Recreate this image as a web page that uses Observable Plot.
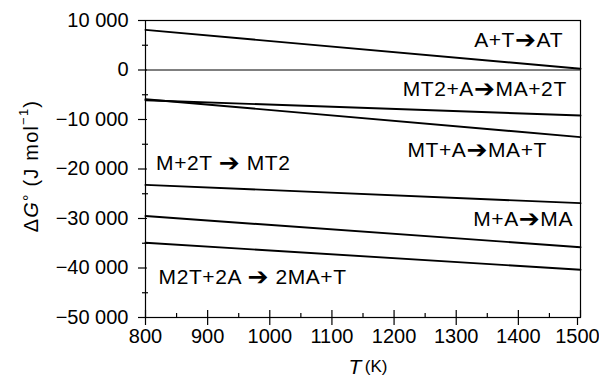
<!DOCTYPE html>
<html>
<head>
<meta charset="utf-8">
<script src="https://cdn.jsdelivr.net/npm/d3@7"></script>
<script src="https://cdn.jsdelivr.net/npm/@observablehq/plot@0.6"></script>
<style>
  html, body { margin: 0; padding: 0; background: #fff; }
  #chart { width: 599px; height: 379px; }
</style>
</head>
<body>
<div id="chart"></div>
<script>
// Reactions and their ΔG° at T = 800 K and T = 1500 K
const reactions = ["A+T\u2192AT", "MT2+A\u2192MA+2T", "MT+A\u2192MA+T", "M+2T\u2192MT2", "M+A\u2192MA", "M2T+2A\u21922MA+T"];
const tStart = 800;
const tEnd = 1500;
const gStart = [8100, -6100, -5900, -23200, -29500, -34900];
const gEnd = [250, -9200, -13550, -26900, -35800, -40350];

// Labels
const labelText = ["A+T\u2794AT", "MT2+A\u2794MA+2T", "MT+A\u2794MA+T", "M+2T \u2794 MT2", "M+A\u2794MA", "M2T+2A \u2794 2MA+T"];
const labelT = [1472, 1478, 1446, 817, 1488, 821];
const labelG = [5960, -3840, -16160, -18790, -30200, -41820];
const labelAnchor = ["end", "end", "end", "start", "end", "start"];

const xTicks = [800, 900, 1000, 1100, 1200, 1300, 1400];
const xLast = [1500];
const xMinor = [850, 950, 1050, 1150, 1250, 1350, 1450];
const yTicks = [10000, 0, -10000, -20000, -30000, -40000, -50000];
const yMinor = [5000, -5000, -15000, -25000, -35000, -45000];

const lines = [];
reactions.forEach((r, i) => {
  lines.push({r, T: tStart, G: gStart[i]});
  lines.push({r, T: tEnd, G: gEnd[i]});
});
const labels = labelText.map((t, i) => ({t, T: labelT[i], G: labelG[i], a: labelAnchor[i]}));

const loc = d3.formatLocale({decimal: ".", thousands: " ", grouping: [3], currency: ["", ""], minus: "\u2212"});
const fmt = loc.format(",d");
const blank = () => "";

const plot = Plot.plot({
  width: 599,
  height: 379,
  marginLeft: 145,
  marginRight: 19,
  marginTop: 20,
  marginBottom: 62,
  style: {fontFamily: "Liberation Sans, Arial, sans-serif", fontSize: "20px", color: "#000", background: "#fff", overflow: "visible"},
  x: {domain: [800, 1500]},
  y: {domain: [-50000, 10000]},
  marks: [
    Plot.frame({stroke: "#000", strokeWidth: 1.2}),
    Plot.ruleY([0], {stroke: "#000", strokeWidth: 1}),
    // y axis ticks and labels
    Plot.axisY({ticks: yTicks, tickSize: 7, tickPadding: 10, tickFormat: fmt, label: null, fontSize: 20, strokeWidth: 1.2}),
    Plot.axisY({ticks: yTicks, tickSize: -2, tickFormat: blank, label: null, strokeWidth: 1.2}),
    Plot.axisY({ticks: yMinor, tickSize: 3, tickFormat: blank, label: null, strokeWidth: 1.2}),
    Plot.axisY({ticks: yMinor, tickSize: -3, tickFormat: blank, label: null, strokeWidth: 1.2}),
    // x axis ticks and labels
    Plot.axisX({ticks: xTicks, tickSize: 8, tickPadding: 3, tickFormat: d => String(d), label: null, fontSize: 20, strokeWidth: 1.2}),
    Plot.axisX({ticks: xLast, tickSize: 8, tickPadding: 3, tickFormat: d => String(d), label: null, fontSize: 20, strokeWidth: 1.2, dx: -3}),
    Plot.axisX({ticks: xTicks.concat(xLast), tickSize: -7, tickFormat: blank, label: null, strokeWidth: 1.2}),
    Plot.axisX({ticks: xMinor, tickSize: 1, tickFormat: blank, label: null, strokeWidth: 1.2}),
    Plot.axisX({ticks: xMinor, tickSize: -4, tickFormat: blank, label: null, strokeWidth: 1.2}),
    Plot.line(lines, {x: "T", y: "G", z: "r", stroke: "#000", strokeWidth: 1.9}),
    Plot.text(labels, {x: "T", y: "G", text: "t", textAnchor: "start", fontSize: 21, fill: "#000", filter: d => d.a === "start", className: "rxn"}),
    Plot.text(labels, {x: "T", y: "G", text: "t", textAnchor: "end", fontSize: 21, fill: "#000", filter: d => d.a === "end", className: "rxn"})
  ]
});
document.getElementById("chart").appendChild(plot);

// make the arrow glyph of each reaction label larger
d3.select(plot).selectAll("g.rxn text").each(function() {
  const el = d3.select(this);
  const s = el.text();
  const parts = s.split("\u2794");
  if (parts.length !== 2) return;
  el.text(null).attr("letter-spacing", 0.6);
  el.append("tspan").text(parts[0]);
  el.append("tspan").attr("font-size", 25).attr("dy", 1).attr("font-family", "DejaVu Sans").text("\u2794");
  el.append("tspan").attr("dy", -1).text(parts[1]);
});

// axis titles as real text in the SVG
const svg = d3.select(plot);
svg.append("text")
  .attr("transform", "translate(33,166) rotate(-90)")
  .attr("text-anchor", "middle")
  .attr("dominant-baseline", "middle")
  .attr("font-size", 20)
  .attr("letter-spacing", 1.2)
  .attr("fill", "#000")
  .html('\u0394<tspan font-style="italic">G</tspan><tspan font-size="16" dy="-2">\u00B0</tspan><tspan dy="2"> (J mol</tspan><tspan dy="-8" font-size="13">\u22121</tspan><tspan dy="8">)</tspan>');
svg.append("text")
  .attr("x", 368)
  .attr("y", 368)
  .attr("text-anchor", "middle")
  .attr("dominant-baseline", "middle")
  .attr("fill", "#000")
  .html('<tspan font-style="italic" font-size="21">T</tspan><tspan font-size="17">\u2009(K)</tspan>');
</script>
</body>
</html>
